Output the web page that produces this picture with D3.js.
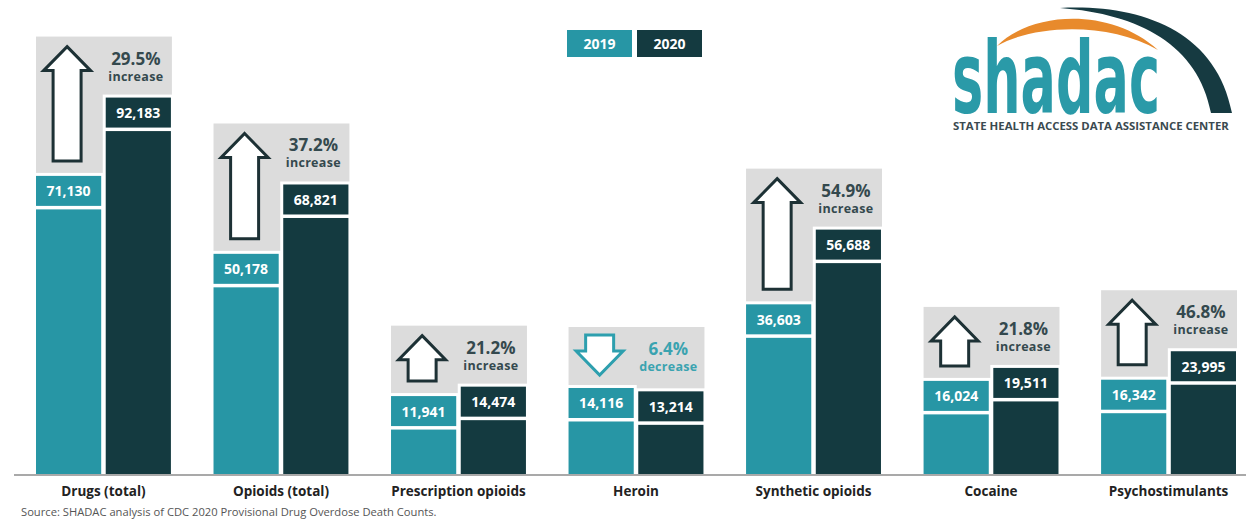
<!DOCTYPE html>
<html><head><meta charset="utf-8">
<script src="https://cdn.jsdelivr.net/npm/d3@7"></script>
<style>html,body{margin:0;padding:0;background:#fff;}svg{display:block;font-family:"Open Sans",sans-serif;}</style>
</head><body>
<svg id="c" width="1248" height="519"></svg>
<script>
const categories = ["Drugs (total)", "Opioids (total)", "Prescription opioids", "Heroin", "Synthetic opioids", "Cocaine", "Psychostimulants"];
const years = ["2019", "2020"];
const values2019 = [71130, 50178, 11941, 14116, 36603, 16024, 16342];
const values2020 = [92183, 68821, 14474, 13214, 56688, 19511, 23995];
const changePct = ["29.5%", "37.2%", "21.2%", "6.4%", "54.9%", "21.8%", "46.8%"];
const changeWord = ["increase", "increase", "increase", "decrease", "increase", "increase", "increase"];
const sourceText = "Source: SHADAC analysis of CDC 2020 Provisional Drug Overdose Death Counts.";

const TEAL = "#2796a5", DARK = "#143a40", GRAY = "#dcdcdc", TXT = "#34494e", ARROW = "#1d3135";
const svg = d3.select("#c");
const baseY = 474;
const x = d3.scaleBand().domain(categories).range([36, 1236]).paddingInner(0.24).paddingOuter(0);
const xi = d3.scaleBand().domain(years).range([0, x.bandwidth()]).paddingInner(0.065);
const y = d3.scaleLinear().domain([0, 100000]).range([baseY, 102]);
const LBL = 30, GAP = 3.5;
const fmt = d3.format(",");

const data = categories.map((c, i) => ({c, i, vals: [values2019[i], values2020[i]], pct: changePct[i], word: changeWord[i]}));

// axis baseline
svg.append("line").attr("x1", 14).attr("x2", 1246).attr("y1", baseY + 1).attr("y2", baseY + 1)
  .attr("stroke", "#a9a9a9").attr("stroke-width", 2);

const g = svg.selectAll("g.grp").data(data).join("g").attr("class", "grp")
  .attr("transform", d => `translate(${x(d.c)},0)`);

g.each(function(d) {
  const gg = d3.select(this);
  const tops = d.vals.map(v => y(v) - LBL - GAP);
  const grayTop = Math.min(...tops) - 61;
  gg.append("rect").attr("x", 0).attr("y", grayTop).attr("width", x.bandwidth() + 1).attr("height", baseY - grayTop).attr("fill", GRAY);
  years.forEach((yr, k) => {
    const bx = xi(yr), bw = xi.bandwidth(), lt = tops[k];
    const col = k === 0 ? TEAL : DARK;
    gg.append("rect").attr("x", bx - 3).attr("y", lt - 3).attr("width", bw + 6).attr("height", baseY - lt + 3).attr("fill", "#fff");
    gg.append("rect").attr("x", bx).attr("y", lt).attr("width", bw).attr("height", LBL).attr("fill", col);
    gg.append("rect").attr("x", bx).attr("y", y(d.vals[k])).attr("width", bw).attr("height", baseY - y(d.vals[k])).attr("fill", col);
    gg.append("text").attr("x", bx + bw / 2).attr("y", lt + 20.5).attr("text-anchor", "middle")
      .attr("fill", "#fff").attr("font-weight", 700).attr("font-size", 14).text(fmt(d.vals[k]));
  });
  // arrow
  const up = d.vals[1] >= d.vals[0];
  const acol = up ? ARROW : "#2d9fae";
  const cx = xi("2019") + xi.bandwidth() / 2 - 1.5;
  const hw = 23.5, sw = 14, hh = 24;
  let pts;
  if (up) {
    const tip = grayTop + 10, hb = tip + hh, bot = tops[0] - 15;
    pts = [[cx, tip], [cx + hw, hb], [cx + sw, hb], [cx + sw, bot], [cx - sw, bot], [cx - sw, hb], [cx - hw, hb]];
  } else {
    const top = grayTop + 8, tip = tops[0] - 13, hb = tip - hh;
    pts = [[cx - sw, top], [cx + sw, top], [cx + sw, hb], [cx + hw, hb], [cx, tip], [cx - hw, hb], [cx - sw, hb]];
  }
  gg.append("path").attr("d", d3.line()(pts) + "Z").attr("fill", "#fff").attr("stroke", acol).attr("stroke-width", 3).attr("stroke-linejoin", "miter");
  const tx = xi("2020") + xi.bandwidth() / 2 - 2.5;
  const tcol = up ? TXT : "#3aa3b0";
  gg.append("text").attr("x", tx).attr("y", grayTop + 28).attr("text-anchor", "middle").attr("fill", tcol)
    .attr("font-weight", 700).attr("font-size", 17).text(d.pct);
  gg.append("text").attr("x", tx).attr("y", grayTop + 44).attr("text-anchor", "middle").attr("fill", tcol)
    .attr("font-weight", 700).attr("font-size", 12.5).attr("letter-spacing", 0.3).text(d.word);
});

// category labels
svg.selectAll("text.cat").data(categories).join("text").attr("class", "cat")
  .attr("x", d => x(d) + x.bandwidth() / 2).attr("y", 496).attr("text-anchor", "middle")
  .attr("fill", "#222").attr("font-weight", 700).attr("font-size", 13.5).text(d => d);

// legend
const lg = svg.append("g");
years.forEach((yr, k) => {
  lg.append("rect").attr("x", 567 + k * 70).attr("y", 30).attr("width", 65).attr("height", 27).attr("fill", k === 0 ? TEAL : DARK);
  lg.append("text").attr("x", 567 + k * 70 + 32.5).attr("y", 49).attr("text-anchor", "middle").attr("fill", "#fff")
    .attr("font-weight", 700).attr("font-size", 14).text(yr);
});

// source
svg.append("text").attr("x", 21).attr("y", 516).attr("fill", "#555").attr("font-size", 11.2).text(sourceText);

// logo
const logo = svg.append("g");
logo.append("path").attr("d", "M1060,8 C1140,4 1216,30 1232,113 L1211,113 C1198,45 1140,14 1060,8 Z").attr("fill", "#163a41");
logo.append("path").attr("d", "M997,46 C1030,12 1110,6 1158,50 C1110,22 1035,24 997,46 Z").attr("fill", "#e88a2c");
const logoText = logo.append("text").attr("x", 0).attr("y", 0).attr("fill", "#2a9aa8")
  .attr("font-family", "'DejaVu Sans Condensed', 'DejaVu Sans'")
  .attr("font-weight", 700).attr("font-size", 100).text("shadac");
const natW = logoText.node().getComputedTextLength() || 300;
logoText.attr("transform", `translate(952,113) scale(${208 / natW},1)`);
const sub = logo.append("text").attr("x", 0).attr("y", 0).attr("fill", "#3b4a50").attr("font-weight", 700).attr("font-size", 10.5)
  .text("STATE HEALTH ACCESS DATA ASSISTANCE CENTER");
const subW = sub.node().getComputedTextLength() || 276;
sub.attr("transform", `translate(953,130) scale(${276 / subW},1)`);
</script>
</body></html>
